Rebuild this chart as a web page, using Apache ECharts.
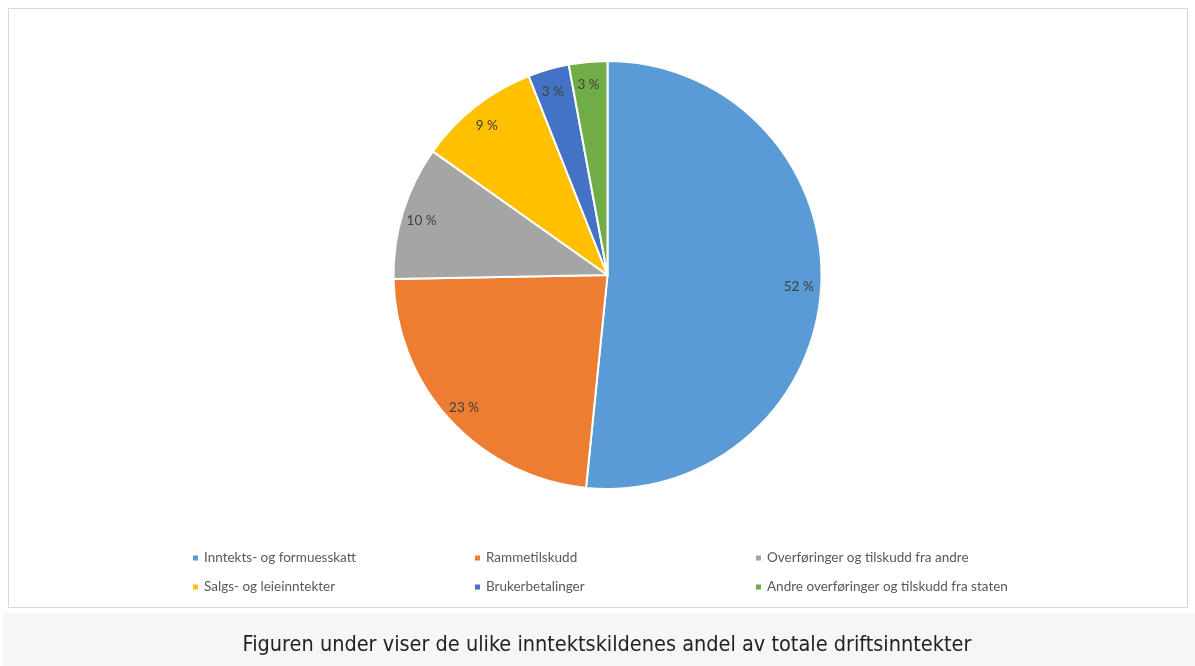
<!DOCTYPE html>
<html>
<head>
<meta charset="utf-8">
<script src="https://cdn.jsdelivr.net/npm/echarts@6/dist/echarts.min.js"></script>
<style>
  html, body { margin: 0; padding: 0; background: #fff; }
  #main { width: 1195px; height: 666px; }
</style>
</head>
<body>
<div id="main"></div>
<script>
// kilder og andeler (prosent)
var kilder = ['Inntekts- og formuesskatt', 'Rammetilskudd', 'Overføringer og tilskudd fra andre',
              'Salgs- og leieinntekter', 'Brukerbetalinger', 'Andre overføringer og tilskudd fra staten'];
var andeler = [51.6, 23.1, 10.1, 9.2, 3.1, 2.9];
var farger = ['#5B9BD5', '#ED7D31', '#A5A5A5', '#FFC000', '#4472C4', '#70AD47'];
var tittel = 'Figuren under viser de ulike inntektskildenes andel av totale driftsinntekter';

var myChart = echarts.init(document.getElementById('main'));

var data = kilder.map(function (k, i) {
    return { name: k, value: andeler[i] };
});

function legende(left, navn) {
    return {
        orient: 'vertical',
        left: left,
        top: 546,
        icon: 'rect',
        itemWidth: 7,
        itemHeight: 7,
        itemGap: 15,
        data: navn,
        textStyle: { color: '#595959', fontSize: 13.5, fontFamily: 'Lato' }
    };
}

var option = {
    color: farger,
    animation: false,
    legend: [
        legende(186, [kilder[0], kilder[3]]),
        legende(468, [kilder[1], kilder[4]]),
        legende(749, [kilder[2], kilder[5]])
    ],
    graphic: [
        { type: 'rect', shape: { x: 8.5, y: 8.5, width: 1179, height: 599 },
          style: { fill: 'none', stroke: '#d9d9d9', lineWidth: 1 }, z: -10 },
        { type: 'rect', shape: { x: 3, y: 613, width: 1192, height: 53 },
          style: { fill: '#f6f6f6' }, z: -10 },
        { type: 'text', x: 607, y: 645,
          style: { text: tittel, fill: '#222', font: '21.5px "DejaVu Sans Condensed", sans-serif',
                   align: 'center', verticalAlign: 'middle' } }
    ],
    series: [{
        name: 'andel',
        type: 'pie',
        center: [607.5, 275],
        radius: [0, 214],
        startAngle: 90,
        clockwise: true,
        data: data,
        itemStyle: { borderColor: '#fff', borderWidth: 2 },
        label: { show: false },
        labelLine: { show: false },
        emphasis: { disabled: true }
    },
    {
        // usynlig ring kun for etikettene
        name: 'etiketter',
        type: 'pie',
        center: [606, 277],
        radius: [170, 210],
        startAngle: 90,
        clockwise: true,
        silent: true,
        data: data,
        itemStyle: { color: 'rgba(0,0,0,0)', borderWidth: 0 },
        label: {
            show: true,
            position: 'inside',
            color: '#404040',
            fontSize: 13.5,
            fontFamily: 'Lato',
            formatter: function (p) { return Math.round(p.value) + ' %'; }
        },
        labelLine: { show: false },
        emphasis: { disabled: true }
    }]
};

myChart.setOption(option);
</script>
</body>
</html>
